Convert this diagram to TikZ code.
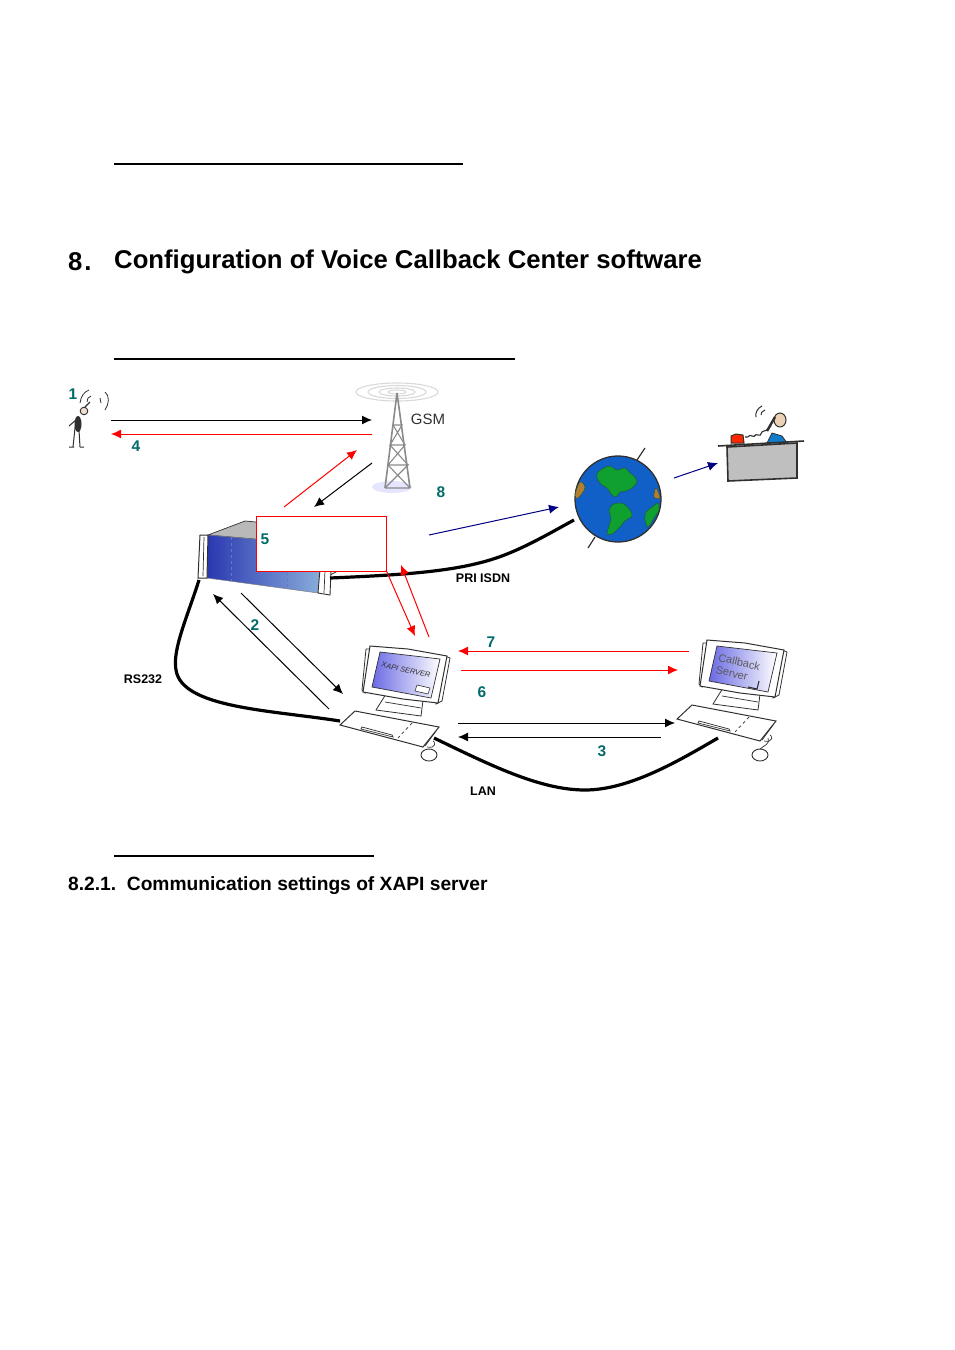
\documentclass[tikz,border=0pt]{standalone}
\usepackage{fontspec}
\setmainfont{Liberation Sans}
\usetikzlibrary{arrows.meta, positioning}
\definecolor{tealNum}{HTML}{006B68}
\definecolor{navyArrow}{HTML}{000080}
\definecolor{screenBlue}{HTML}{6A6AE4}
\definecolor{inkDark}{HTML}{303030}
\definecolor{towerGray}{HTML}{8A8A8A}
\definecolor{srvDark}{HTML}{2A38B0}
\definecolor{srvLight}{HTML}{8AAEDB}
\definecolor{landGreen}{HTML}{10A030}
\definecolor{seaBlue}{HTML}{1060C8}
\definecolor{landBrown}{HTML}{B08030}
\tikzset{
    numLabel/.style={font=\fontsize{15.5}{18}\selectfont\bfseries, text=tealNum, inner sep=0pt},
    linkLabel/.style={font=\fontsize{12.5}{15}\selectfont\bfseries, inner sep=0pt},
    blackArrow/.style={-{Latex[length=10pt,width=9pt]}, line width=1pt, black},
    redArrow/.style={-{Latex[length=10pt,width=9pt]}, line width=1pt, red},
    navyLine/.style={-{Latex[length=10pt,width=9pt]}, line width=1pt, navyArrow},
    cable/.style={line width=3.2pt, black},
    headRule/.style={line width=1.3pt, black},
    pics/deskPc/.style={code={
        \draw[inkDark, line width=0.8pt, fill=white] (13,48)--(50,54)--(48,70)--(3,64)--cycle;
        \draw[inkDark, line width=0.7pt] (12,56)--(48,62);
        \draw[inkDark, line width=0.8pt, fill=white] (-3,3)--(-7,3)--(-11,44)--(-8,47)--cycle;
        \draw[inkDark, line width=0.8pt, fill=white] (72,10)--(77,12)--(69,55)--(63,58)--cycle;
        \draw[inkDark, line width=1pt, fill=white] (-3,0)--(35,3)--(74,10)--(65,57)--(30,53)--(-10,46)--cycle;
        \draw[inkDark, line width=0.7pt, left color=screenBlue, right color=white] (7,6)--(67,13)--(58,52)--(-1,41)--cycle;
        \draw[inkDark, line width=1pt, fill=white] (-18,65)--(66,81)--(50,101)--(-33,79)--cycle;
        \draw[inkDark, line width=0.7pt] (-12,83)--(20,91)--(19,89)--(-11,81)--cycle;
        \draw[inkDark, line width=0.7pt, dashed] (39,77)--(25,92);
        \draw[inkDark, line width=0.8pt] (63,85)--(52,100);
        \draw[inkDark, line width=0.7pt] (54,101) .. controls (64,103) and (62,95) .. (60,95);
    }}
}
\begin{document}
\begin{tikzpicture}[x=1pt, y=-1pt]
        \useasboundingbox (0,0) rectangle (954,1350);

        % page text
        \draw[headRule] (114,164)--(463,164);
        \draw[headRule] (114,359)--(515,359);
        \draw[line width=2pt] (114,856)--(374,856);
        \node[anchor=west, inner sep=0pt, font=\fontsize{25.7}{30}\selectfont\bfseries] (secNum) at (68,262) {8\hspace{2pt}.};
        \node[anchor=west, inner sep=0pt, font=\fontsize{25.7}{30}\selectfont\bfseries] (secTitle) at (114,262) {Configuration of Voice Callback Center software};
        \node[anchor=west, inner sep=0pt, font=\fontsize{19.2}{23}\selectfont\bfseries] (subTitle) at (68,886) {8.2.1.\ \ Communication settings of XAPI server};

        % caller
        \draw[inkDark, line width=1pt] (73,447)--(75,428)--(78,417) (80,447)--(79,430)
            (69,426)--(76,420) (69,447)--(74,447) (80,447)--(84,447);
        \fill[inkDark] (78,424) ellipse[x radius=3.5, y radius=8];
        \draw[inkDark, line width=0.9pt, fill=brown!25] (84,411) circle[radius=3.8];
        \draw[inkDark, line width=1.2pt] (85,407)--(90,402);
        \draw[inkDark, line width=0.8pt] (80,403) .. controls (81,396) and (84,392) .. (89,390);
        \draw[inkDark, line width=0.8pt] (87,402) .. controls (87,399) and (88,397) .. (91,396);
        \draw[inkDark, line width=0.8pt] (105,392) .. controls (110,396) and (109,404) .. (105,410);
        \draw[inkDark, line width=0.8pt] (100,398)--(101,403);

        % tower
        \fill[blue!10] (392,487) ellipse[x radius=20, y radius=6];
        \foreach \rx/\ry in {41/9, 29/6.5, 18/4, 9/2}
            \draw[gray!30, line width=1.1pt] (397,392) ellipse[x radius=\rx, y radius=\ry];
        \draw[towerGray, line width=1.6pt] (397,393)--(385,488) (397,393)--(410,488);
        \draw[towerGray, line width=1.1pt] (393,425)--(402,425)--(390,445)--(405,445)--(388,465)--(408,465)--(385,488)
            (393,425)--(405,445) (390,445)--(408,465) (388,465)--(410,488) (385,488)--(410,488);
        \node[inner sep=0pt, text=inkDark, font=\fontsize{15}{18}\selectfont] (gsm) at (428,419) {GSM};

        % server
        \draw[inkDark, line width=0.7pt, fill=gray!55] (208,535)--(245,521)--(345,530)--(322,545)--cycle;
        \draw[inkDark, line width=0.7pt] (330,575)--(340,570);
        \draw[gray, left color=srvDark, right color=srvLight, line width=0.5pt] (208,535)--(322,545)--(318,593)--(207,578)--cycle;
        \draw[srvDark!70!white, line width=0.4pt, dashed] (231,537)--(231,581) (287,542)--(287,589);
        \draw[inkDark, line width=1pt, fill=white] (200,535)--(208,535)--(207,578)--(198,578)--cycle;
        \draw[inkDark, line width=0.9pt, fill=white] (322,545)--(332,547)--(330,595)--(318,593)--cycle;
        \draw[inkDark, line width=0.7pt] (204,537)--(203,576) (326,548)--(324,593);

        % hidden server text box
        \node[draw=red, fill=white, line width=0.9pt, minimum width=130pt, minimum height=55pt, inner sep=0pt] (redBox) at (321,543.5) {};

        % workstations
        \pic (xapiPc) at (373,646) {deskPc};
        \pic (cbPc) at (710,640) {deskPc};
        \draw[inkDark, line width=0.9pt, fill=white] (429,755) ellipse[x radius=8, y radius=6];
        \draw[inkDark, line width=0.9pt, fill=white] (760,755) ellipse[x radius=8, y radius=6];
        \draw[inkDark, line width=0.7pt] (760,749) .. controls (764,745) and (770,745) .. (768,738);
        \node[inner sep=0pt, rotate=-13, inkDark, font=\fontsize{7.5}{9}\selectfont\itshape] (xapiText) at (406,670) {XAPI SERVER};
        \draw[inkDark, fill=white, line width=0.6pt] (417,685)--(430,688)--(428,694)--(415,691)--cycle;
        \node[inner sep=0pt, rotate=-13, inkDark!80, align=left, font=\fontsize{11}{12.5}\selectfont] (cbText) at (738,668) {Callback\\Server};
        \draw[inkDark, line width=1.1pt] (748,687)--(757,689)--(759,681);

        % globe
        \draw[inkDark, line width=1.2pt] (645,448)--(635,463) (595,537)--(588,548);
        \draw[inkDark, line width=1.3pt, fill=seaBlue] (618,499) circle[radius=43];
        \draw[inkDark!70!landGreen, line width=0.4pt, fill=landGreen] plot[smooth cycle, tension=0.5] coordinates {(598,472) (604,468) (610,466) (617,470) (625,468) (630,473) (634,476) (637,482) (632,488) (626,491) (620,492) (616,497) (611,494) (608,489) (601,484) (597,478)};
        \draw[inkDark!70!landGreen, line width=0.4pt, fill=landGreen] plot[smooth cycle, tension=0.5] coordinates {(612,505) (618,503) (624,504) (630,510) (632,516) (625,521) (620,527) (612,534) (607,534) (609,526) (611,518) (609,511)};
        \draw[inkDark!70!landGreen, line width=0.4pt, fill=landGreen] plot[smooth cycle, tension=0.5] coordinates {(646,512) (652,507) (658,503) (659,510) (654,518) (648,527) (645,520)};
        \draw[inkDark!70!landGreen, line width=0.4pt, fill=landBrown] plot[smooth cycle, tension=0.6] coordinates {(580,482) (575,495) (578,498) (585,488)};
        \draw[inkDark!70!landGreen, line width=0.4pt, fill=landBrown] plot[smooth cycle, tension=0.6] coordinates {(656,488) (660,498) (654,497)};

        % desk
        \draw[inkDark, line width=1pt, fill=orange!25!white!85!gray] (780,420) ellipse[x radius=6, y radius=7];
        \draw[inkDark, line width=0.8pt, fill=cyan!60!blue] (767,443)--(772,433)--(782,436)--(787,443)--cycle;
        \draw[inkDark, line width=1pt, fill=red!70!orange] (731,443)--(731,436)--(736,434)--(743,435)--(744,443)--cycle;
        \draw[inkDark, line width=1.1pt] (745,437) .. controls (750,438) and (748,434) .. (752,436)
            .. controls (756,438) and (754,433) .. (758,435) .. controls (762,437) and (760,431) .. (764,431)
            .. controls (768,431) and (768,427) .. (771,426);
        \draw[inkDark, line width=2.4pt] (767,431)--(775,417);
        \draw[inkDark, line width=1pt] (756,417) .. controls (755,412) and (758,408) .. (762,406);
        \draw[inkDark, line width=1pt] (761,415) .. controls (761,413) and (762,411) .. (765,410);
        \draw[inkDark, line width=1.6pt, fill=gray!50] (727,447)--(797,443)--(797,478)--(728,481)--cycle;
        \draw[inkDark, line width=1.6pt] (718,446)--(804,441);

        % cables
        \draw[cable] (199,580) .. controls (188,615) and (172,650) .. (176,670)
            .. controls (182,708) and (270,710) .. (340,721);
        \draw[cable] (330,578) .. controls (400,575) and (450,572) .. (490,560) .. controls (520,551) and (550,533) .. (574,520);
        \draw[cable] (434,738) .. controls (490,765) and (540,790) .. (585,790) .. controls (630,790) and (680,760) .. (718,738);

        % arrow ends
        \coordinate (callerOut) at (111,420);
        \coordinate (towerIn) at (372,420);
        \coordinate (towerOut) at (372,434);
        \coordinate (callerIn) at (111,434);
        \coordinate (srvUp) at (284,507);
        \coordinate (towerDown) at (357,450);
        \coordinate (towerLeft) at (372,463);
        \coordinate (srvTop) at (314,507);
        \coordinate (isdnFrom) at (429,535);
        \coordinate (isdnTo) at (559,507);
        \coordinate (netFrom) at (674,478);
        \coordinate (deskTo) at (718,463);
        \coordinate (boxCorner) at (386,570);
        \coordinate (xapiTop) at (415,636);
        \coordinate (xapiRise) at (429,637);
        \coordinate (boxBack) at (401,565);
        \coordinate (srvDown) at (241,593);
        \coordinate (xapiLeft) at (343,694);
        \coordinate (xapiKey) at (329,709);
        \coordinate (srvBack) at (213,594);
        \coordinate (cbRedOut) at (689,651);
        \coordinate (xapiRedIn) at (458,651);
        \coordinate (xapiRedOut) at (461,670);
        \coordinate (cbRedIn) at (678,670);
        \coordinate (xapiOut) at (458,723);
        \coordinate (cbIn) at (675,723);
        \coordinate (cbOut) at (661,737);
        \coordinate (xapiIn) at (458,737);

        \draw [blackArrow] (callerOut)--(towerIn);
        \draw [redArrow] (towerOut)--(callerIn);
        \draw [redArrow] (srvUp)--(towerDown);
        \draw [blackArrow] (towerLeft)--(srvTop);
        \draw [navyLine] (isdnFrom)--(isdnTo);
        \draw [navyLine] (netFrom)--(deskTo);
        \draw [redArrow] (boxCorner)--(xapiTop);
        \draw [redArrow] (xapiRise)--(boxBack);
        \draw [blackArrow] (srvDown)--(xapiLeft);
        \draw [blackArrow] (xapiKey)--(srvBack);
        \draw [redArrow] (cbRedOut)--(xapiRedIn);
        \draw [redArrow] (xapiRedOut)--(cbRedIn);
        \draw [blackArrow] (xapiOut)--(cbIn);
        \draw [blackArrow] (cbOut)--(xapiIn);

        % step numbers
        \node[numLabel] (num1) at (73,394) {1};
        \node[numLabel] (num2) at (255,625) {2};
        \node[numLabel] (num3) at (602,751) {3};
        \node[numLabel] (num4) at (136,446) {4};
        \node[numLabel] (num5) at (265,539) {5};
        \node[numLabel] (num6) at (482,692) {6};
        \node[numLabel] (num7) at (491,642) {7};
        \node[numLabel] (num8) at (441,492) {8};

        \node[linkLabel] (rsLabel) at (143,679) {RS232};
        \node[linkLabel] (isdnLabel) at (483,578) {PRI ISDN};
        \node[linkLabel] (lanLabel) at (483,791) {LAN};
    \end{tikzpicture}
\end{document}
